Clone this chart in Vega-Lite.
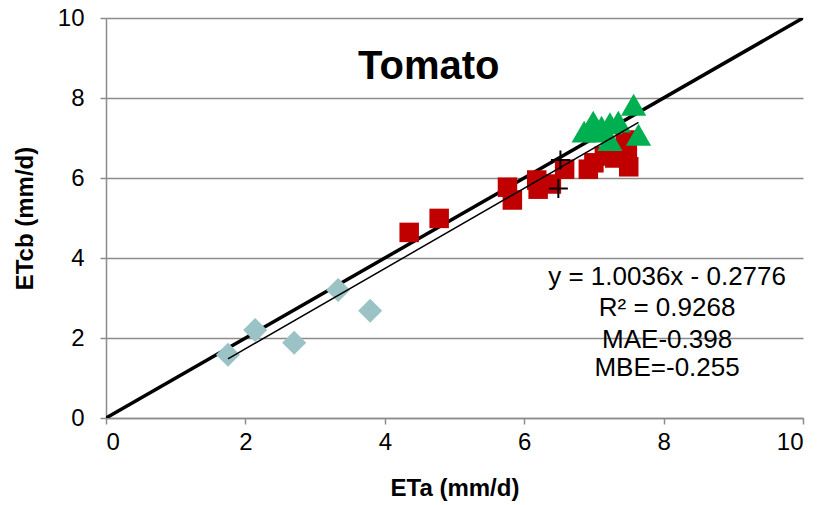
{
  "$schema": "https://vega.github.io/schema/vega-lite/v6.json",
  "width": 697,
  "height": 400,
  "autosize": "none",
  "padding": {"left": 106, "top": 18, "right": 18, "bottom": 87},
  "background": "white",
  "config": {
    "font": "Liberation Sans",
    "view": {"stroke": null},
    "axis": {
      "domainColor": "#8c8c8c",
      "domainWidth": 1.5,
      "tickColor": "#8c8c8c",
      "tickWidth": 1.5,
      "tickSize": 6,
      "labelFontSize": 24,
      "labelColor": "#000000",
      "labelFont": "Liberation Sans",
      "titleFontSize": 24,
      "titleFontWeight": "bold",
      "titleColor": "#000000",
      "titleFont": "Liberation Sans"
    }
  },
  "datasets": {
    "points": [
      {"group": "A", "eta": 1.75, "etcb": 1.58},
      {"group": "A", "eta": 2.14, "etcb": 2.2},
      {"group": "A", "eta": 2.7, "etcb": 1.88},
      {"group": "A", "eta": 3.33, "etcb": 3.2},
      {"group": "A", "eta": 3.79, "etcb": 2.68},
      {"group": "B", "eta": 4.35, "etcb": 4.64},
      {"group": "B", "eta": 4.78, "etcb": 4.99},
      {"group": "B", "eta": 5.76, "etcb": 5.77},
      {"group": "B", "eta": 5.83, "etcb": 5.45},
      {"group": "B", "eta": 6.18, "etcb": 5.95},
      {"group": "B", "eta": 6.2, "etcb": 5.72},
      {"group": "B", "eta": 6.39, "etcb": 5.85},
      {"group": "B", "eta": 6.58, "etcb": 6.22},
      {"group": "B", "eta": 6.92, "etcb": 6.22},
      {"group": "B", "eta": 7.0, "etcb": 6.38},
      {"group": "B", "eta": 7.15, "etcb": 6.55},
      {"group": "B", "eta": 7.3, "etcb": 6.5},
      {"group": "B", "eta": 7.45, "etcb": 6.95},
      {"group": "B", "eta": 7.48, "etcb": 6.6},
      {"group": "B", "eta": 7.5, "etcb": 6.28},
      {"group": "C", "eta": 6.86, "etcb": 7.16},
      {"group": "C", "eta": 6.99, "etcb": 7.41},
      {"group": "C", "eta": 7.05, "etcb": 7.16},
      {"group": "C", "eta": 7.11, "etcb": 7.28},
      {"group": "C", "eta": 7.23, "etcb": 7.37},
      {"group": "C", "eta": 7.35, "etcb": 7.41},
      {"group": "C", "eta": 7.23, "etcb": 6.95},
      {"group": "C", "eta": 7.57, "etcb": 7.83},
      {"group": "C", "eta": 7.64, "etcb": 7.08},
      {"group": "D", "eta": 6.52, "etcb": 6.45},
      {"group": "D", "eta": 6.49, "etcb": 5.74}
    ],
    "oneToOne": [
      {"eta": 0, "etcb": 0},
      {"eta": 10, "etcb": 10}
    ],
    "fit": [
      {"eta": 1.75, "etcb": 1.479},
      {"eta": 7.64, "etcb": 7.39}
    ],
    "notes": [
      {"eta": 8.05, "etcb": 3.53, "label": "y = 1.0036x - 0.2776"},
      {"eta": 8.05, "etcb": 2.75, "label": "R² = 0.9268"},
      {"eta": 8.05, "etcb": 1.95, "label": "MAE-0.398"},
      {"eta": 8.05, "etcb": 1.25, "label": "MBE=-0.255"}
    ],
    "heading": [
      {"eta": 4.63, "etcb": 8.78, "label": "Tomato"}
    ]
  },
  "layer": [
    {
      "data": {"name": "oneToOne"},
      "mark": {"type": "line", "color": "#000000", "strokeWidth": 3.5, "clip": true},
      "encoding": {
        "x": {
          "field": "eta", "type": "quantitative",
          "scale": {"domain": [0, 10], "nice": false},
          "axis": {"values": [0, 2, 4, 6, 8, 10], "format": "d", "grid": false, "title": "ETa (mm/d)", "labelPadding": 6, "titlePadding": 22}
        },
        "y": {
          "field": "etcb", "type": "quantitative",
          "scale": {"domain": [0, 10], "nice": false},
          "axis": {"values": [0, 2, 4, 6, 8, 10], "format": "d", "grid": true, "gridColor": "#8c8c8c", "gridWidth": 1.5, "title": "ETcb (mm/d)", "labelPadding": 16, "titlePadding": 20}
        }
      }
    },
    {
      "data": {"name": "points"},
      "transform": [{"filter": "datum.group === 'A'"}],
      "mark": {"type": "point", "shape": "diamond", "filled": true, "size": 580, "color": "#9bc3c6", "opacity": 1},
      "encoding": {
        "x": {"field": "eta", "type": "quantitative"},
        "y": {"field": "etcb", "type": "quantitative"}
      }
    },
    {
      "data": {"name": "points"},
      "transform": [{"filter": "datum.group === 'B'"}],
      "mark": {"type": "point", "shape": "square", "filled": true, "size": 380, "color": "#c00000", "opacity": 1},
      "encoding": {
        "x": {"field": "eta", "type": "quantitative"},
        "y": {"field": "etcb", "type": "quantitative"}
      }
    },
    {
      "data": {"name": "points"},
      "transform": [{"filter": "datum.group === 'C'"}],
      "mark": {"type": "point", "shape": "triangle-up", "filled": true, "size": 640, "color": "#00b050", "opacity": 1},
      "encoding": {
        "x": {"field": "eta", "type": "quantitative"},
        "y": {"field": "etcb", "type": "quantitative"}
      }
    },
    {
      "data": {"name": "points"},
      "transform": [{"filter": "datum.group === 'D'"}],
      "mark": {"type": "point", "shape": "M-1,0L1,0M0,-1L0,1", "filled": false, "size": 360, "stroke": "#000000", "strokeWidth": 2, "opacity": 1},
      "encoding": {
        "x": {"field": "eta", "type": "quantitative"},
        "y": {"field": "etcb", "type": "quantitative"}
      }
    },
    {
      "data": {"name": "fit"},
      "mark": {"type": "line", "color": "#000000", "strokeWidth": 1.5},
      "encoding": {
        "x": {"field": "eta", "type": "quantitative"},
        "y": {"field": "etcb", "type": "quantitative"}
      }
    },
    {
      "data": {"name": "notes"},
      "mark": {"type": "text", "fontSize": 26, "align": "center", "baseline": "middle", "color": "#000000"},
      "encoding": {
        "x": {"field": "eta", "type": "quantitative"},
        "y": {"field": "etcb", "type": "quantitative"},
        "text": {"field": "label"}
      }
    },
    {
      "data": {"name": "heading"},
      "mark": {"type": "text", "fontSize": 40, "fontWeight": "bold", "align": "center", "baseline": "middle", "color": "#000000"},
      "encoding": {
        "x": {"field": "eta", "type": "quantitative"},
        "y": {"field": "etcb", "type": "quantitative"},
        "text": {"field": "label"}
      }
    }
  ]
}
